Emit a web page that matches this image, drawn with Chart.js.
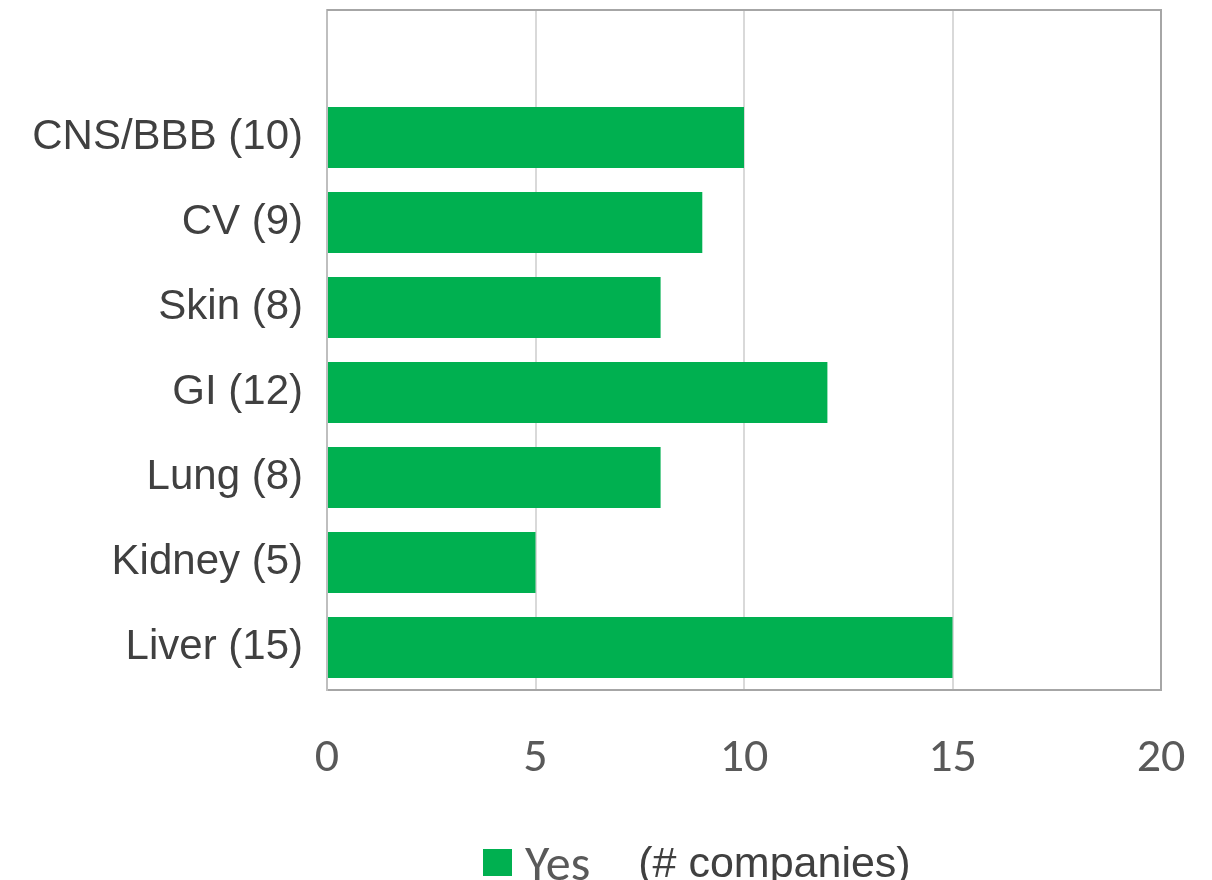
<!DOCTYPE html>
<html>
<head>
<meta charset="utf-8">
<title>Companies by organ</title>
<script src="https://cdn.jsdelivr.net/npm/chart.js@4.4.1/dist/chart.umd.min.js"></script>
<style>
  html, body { margin: 0; padding: 0; background: #fff; }
  #wrap { position: relative; width: 1212px; height: 880px; }
  #legend {
    position: absolute; left: 483px; top: 832px;
    display: flex; align-items: center; white-space: nowrap;
  }
  #legend .box { width: 29px; height: 27px; background: #00b050; margin-right: 13px; }
  #legend .yes { font: 50px Calibri, Carlito, Lato, sans-serif; color: #595959; margin-right: 48px; }
  #legend .note { font: 43px "Liberation Sans", Arial, sans-serif; color: #404040; }
</style>
</head>
<body>
<div id="wrap">
  <canvas id="chart" width="1212" height="880"></canvas>
  <div id="legend">
    <span class="box"></span><span class="yes">Yes</span><span class="note">(# companies)</span>
  </div>
</div>
<script>
// first slot left empty: the source chart has a blank row above CNS/BBB
const organs = ["", "CNS/BBB (10)", "CV (9)", "Skin (8)", "GI (12)", "Lung (8)", "Kidney (5)", "Liver (15)"];
const yesCounts = [null, 10, 9, 8, 12, 8, 5, 15];
const xTicks = [0, 5, 10, 15, 20];

const GREEN = "#00b050";

// top + right edges of the plot frame
const frame = {
  id: "frame",
  afterDraw(chart) {
    const { ctx, chartArea: a } = chart;
    ctx.save();
    ctx.strokeStyle = "#a6a6a6";
    ctx.lineWidth = 2;
    ctx.beginPath();
    ctx.moveTo(a.left, a.top);
    ctx.lineTo(a.right, a.top);
    ctx.lineTo(a.right, a.bottom);
    ctx.stroke();
    ctx.restore();
  }
};

new Chart(document.getElementById("chart"), {
  type: "bar",
  data: {
    labels: organs,
    datasets: [{
      label: "Yes",
      data: yesCounts,
      backgroundColor: GREEN,
      borderWidth: 0,
      barPercentage: 0.715,
      categoryPercentage: 1
    }]
  },
  options: {
    indexAxis: "y",
    responsive: false,
    animation: false,
    layout: { padding: { top: 10, right: 51, left: 0, bottom: 0 } },
    plugins: { legend: { display: false }, tooltip: { enabled: false } },
    scales: {
      x: {
        min: xTicks[0], max: xTicks[xTicks.length - 1],
        afterBuildTicks: s => { s.ticks = xTicks.map(v => ({ value: v })); },
        afterFit: s => { s.height = 190; s.paddingLeft = 0; s.paddingRight = 0; },
        grid: { color: "#d9d9d9", lineWidth: 2, drawTicks: false },
        border: { color: "#a6a6a6", width: 2 },
        ticks: {
          padding: 40,
          color: "#595959",
          font: { family: "Calibri, Carlito, Lato, sans-serif", size: 48 }
        }
      },
      y: {
        afterFit: s => { s.width = 327; s.paddingTop = 0; s.paddingBottom = 0; },
        grid: { display: false, drawTicks: false },
        border: { color: "#bfbfbf", width: 2 },
        ticks: {
          padding: 24,
          color: "#404040",
          font: { family: "'Liberation Sans', Arial, sans-serif", size: 42 }
        }
      }
    }
  },
  plugins: [frame]
});
</script>
</body>
</html>
